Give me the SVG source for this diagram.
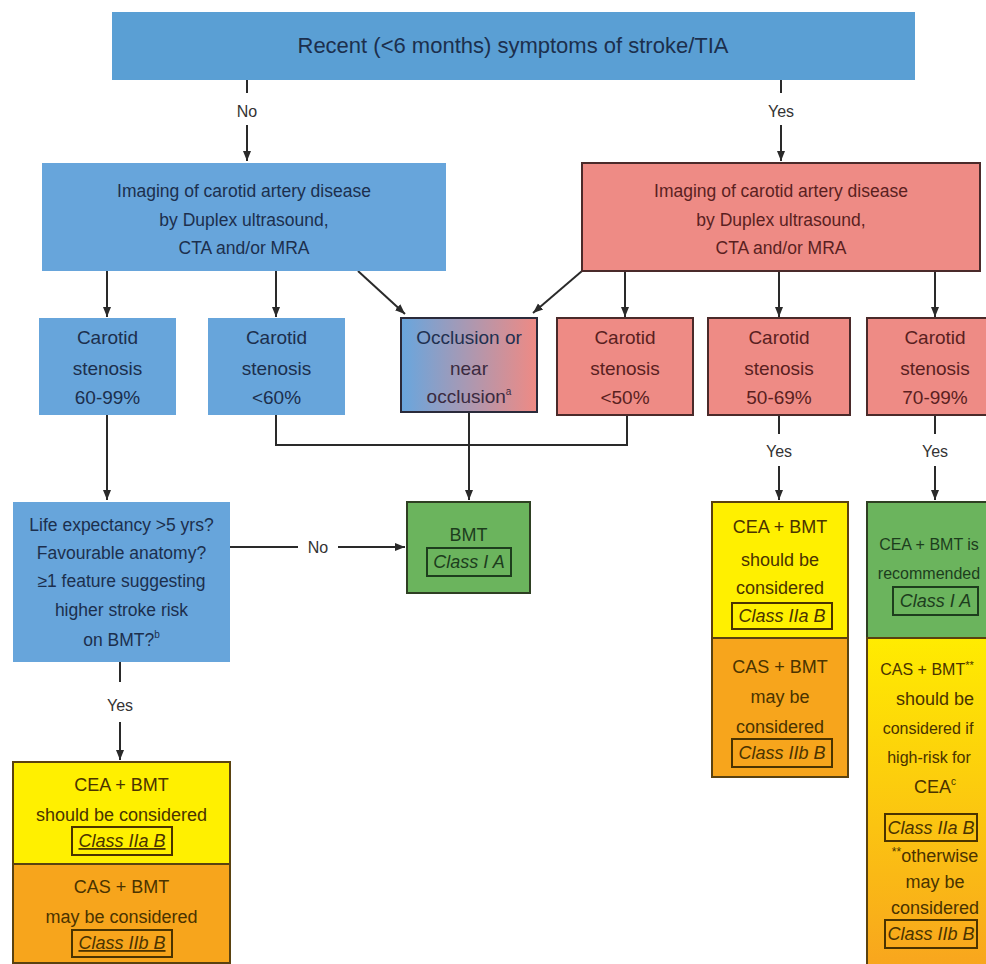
<svg xmlns="http://www.w3.org/2000/svg" width="986" height="964" viewBox="0 0 986 964">
<defs>
<marker id="ah" viewBox="0 0 10 10" refX="10" refY="5" markerWidth="10" markerHeight="10" markerUnits="userSpaceOnUse" orient="auto"><path d="M0,1 L10,5 L0,9 z" fill="#2a2a2a"/></marker>
<linearGradient id="occ" x1="0" x2="1" y1="0" y2="0"><stop offset="0" stop-color="#68a6de"/><stop offset="1" stop-color="#ef8a84"/></linearGradient>
<linearGradient id="yo" x1="0" x2="0" y1="0" y2="1"><stop offset="0" stop-color="#ffec00"/><stop offset="1" stop-color="#f8a51e"/></linearGradient>
</defs>
<style>
text{font-family:"Liberation Sans",Arial,sans-serif;text-anchor:middle}
.blue{fill:#67a5db}
.red{fill:#ee8b85;stroke:#4a2a2a;stroke-width:2}
.green{fill:#6bb45d;stroke:#2e3f22;stroke-width:2}
.yel{fill:#fff000;stroke:#5a4210;stroke-width:2}
.org{fill:#f7a51c;stroke:#5a4210;stroke-width:2}
.tb{fill:#1c2f4d}
.tr{fill:#5a1f1f}
.tg{fill:#1d3d1d}
.ty{fill:#4a3300}
.cls{fill:none;stroke-width:2}
.it{font-style:italic}
.lbl{fill:#333;font-size:16px}
.ln{stroke:#2a2a2a;stroke-width:2;fill:none}
.s17{font-size:17.5px}
.s19{font-size:19px}
.s18{font-size:18px}
.s16{font-size:16px}
</style>

<g id="connectors">
<line class="ln" x1="247" y1="80" x2="247" y2="93"/>
<text class="lbl" x="247" y="117">No</text>
<line class="ln" x1="247" y1="125" x2="247" y2="161" marker-end="url(#ah)"/>
<line class="ln" x1="781" y1="80" x2="781" y2="93"/>
<text class="lbl" x="781" y="117">Yes</text>
<line class="ln" x1="781" y1="125" x2="781" y2="161" marker-end="url(#ah)"/>
<line class="ln" x1="107" y1="271" x2="107" y2="317" marker-end="url(#ah)"/>
<line class="ln" x1="276" y1="271" x2="276" y2="317" marker-end="url(#ah)"/>
<line class="ln" x1="358" y1="271" x2="405" y2="314" marker-end="url(#ah)"/>
<line class="ln" x1="582" y1="271" x2="533" y2="313" marker-end="url(#ah)"/>
<line class="ln" x1="625" y1="271" x2="625" y2="317" marker-end="url(#ah)"/>
<line class="ln" x1="779" y1="271" x2="779" y2="317" marker-end="url(#ah)"/>
<line class="ln" x1="935" y1="271" x2="935" y2="317" marker-end="url(#ah)"/>
<polyline class="ln" points="276,415 276,445 627,445 627,415"/>
<line class="ln" x1="469" y1="412" x2="469" y2="500" marker-end="url(#ah)"/>
<line class="ln" x1="107" y1="415" x2="107" y2="500" marker-end="url(#ah)"/>
<line class="ln" x1="230" y1="547" x2="298" y2="547"/>
<text class="lbl" x="318" y="553">No</text>
<line class="ln" x1="338" y1="547" x2="405" y2="547" marker-end="url(#ah)"/>
<line class="ln" x1="120" y1="662" x2="120" y2="682"/>
<text class="lbl" x="120" y="711">Yes</text>
<line class="ln" x1="120" y1="722" x2="120" y2="760" marker-end="url(#ah)"/>
<line class="ln" x1="779" y1="415" x2="779" y2="434"/>
<text class="lbl" x="779" y="457">Yes</text>
<line class="ln" x1="779" y1="466" x2="779" y2="500" marker-end="url(#ah)"/>
<line class="ln" x1="935" y1="415" x2="935" y2="434"/>
<text class="lbl" x="935" y="457">Yes</text>
<line class="ln" x1="935" y1="466" x2="935" y2="500" marker-end="url(#ah)"/>
</g>

<g id="top">
<rect x="112" y="12" width="803" height="68" fill="#5a9fd4"/>
<text class="tb" x="513" y="53" style="font-size:22px">Recent (&lt;6 months) symptoms of stroke/TIA</text>
</g>

<g id="imaging-no">
<rect class="blue" x="42" y="163" width="404" height="108"/>
<text class="tb s17" x="244" y="197">Imaging of carotid artery disease</text>
<text class="tb s17" x="244" y="226">by Duplex ultrasound,</text>
<text class="tb s17" x="244" y="254">CTA and/or MRA</text>
</g>

<g id="imaging-yes">
<rect class="red" x="582" y="163" width="398" height="108"/>
<text class="tr s17" x="781" y="197">Imaging of carotid artery disease</text>
<text class="tr s17" x="781" y="226">by Duplex ultrasound,</text>
<text class="tr s17" x="781" y="254">CTA and/or MRA</text>
</g>

<g id="sten-60-99">
<rect class="blue" x="39" y="318" width="137" height="97"/>
<text class="tb s19" x="107.5" y="344">Carotid</text>
<text class="tb s19" x="107.5" y="375">stenosis</text>
<text class="tb s19" x="107.5" y="404">60-99%</text>
</g>

<g id="sten-lt60">
<rect class="blue" x="208" y="318" width="137" height="97"/>
<text class="tb s19" x="276.5" y="344">Carotid</text>
<text class="tb s19" x="276.5" y="375">stenosis</text>
<text class="tb s19" x="276.5" y="404">&lt;60%</text>
</g>

<g id="occlusion">
<rect x="401" y="318" width="136" height="94" fill="url(#occ)" stroke="#2a2a3a" stroke-width="2"/>
<text class="s19" x="469" y="344" fill="#1f3050">Occlusion or</text>
<text class="s19" x="469" y="375" fill="#3a2a40">near</text>
<text class="s19" x="469" y="403" fill="#3a2a40">occlusion<tspan font-size="10" dy="-8">a</tspan></text>
</g>

<g id="sten-lt50">
<rect class="red" x="557" y="318" width="136" height="97"/>
<text class="tr s19" x="625" y="344">Carotid</text>
<text class="tr s19" x="625" y="375">stenosis</text>
<text class="tr s19" x="625" y="404">&lt;50%</text>
</g>

<g id="sten-50-69">
<rect class="red" x="708" y="318" width="142" height="97"/>
<text class="tr s19" x="779" y="344">Carotid</text>
<text class="tr s19" x="779" y="375">stenosis</text>
<text class="tr s19" x="779" y="404">50-69%</text>
</g>

<g id="sten-70-99">
<rect class="red" x="867" y="318" width="140" height="97"/>
<text class="tr s19" x="935" y="344">Carotid</text>
<text class="tr s19" x="935" y="375">stenosis</text>
<text class="tr s19" x="935" y="404">70-99%</text>
</g>

<g id="life">
<rect class="blue" x="13" y="502" width="217" height="160"/>
<text class="tb s17" x="121.5" y="531">Life expectancy &gt;5 yrs?</text>
<text class="tb s17" x="121.5" y="559">Favourable anatomy?</text>
<text class="tb s17" x="121.5" y="587">≥1 feature suggesting</text>
<text class="tb s17" x="121.5" y="616">higher stroke risk</text>
<text class="tb s17" x="121.5" y="646">on BMT?<tspan font-size="10" dy="-8">b</tspan></text>
</g>

<g id="bmt">
<rect class="green" x="407" y="502" width="123" height="91"/>
<text class="tg s18" x="468.5" y="541">BMT</text>
<rect class="cls" x="427" y="548" width="84" height="28" stroke="#1d3d1d"/>
<text class="tg s18 it" x="469" y="568">Class I A</text>
</g>

<g id="left-result">
<rect class="yel" x="13" y="762" width="217" height="102"/>
<text class="ty s18" x="121.5" y="791">CEA + BMT</text>
<text class="ty s18" x="121.5" y="821">should be considered</text>
<rect class="cls" x="72" y="827" width="100" height="28" stroke="#4a3300"/>
<text class="ty s18 it" x="122" y="847" text-decoration="underline">Class IIa B</text>
<rect class="org" x="13" y="864" width="217" height="99"/>
<text class="ty s18" x="121.5" y="893">CAS + BMT</text>
<text class="ty s18" x="121.5" y="923">may be considered</text>
<rect class="cls" x="72" y="930" width="100" height="27" stroke="#4a3300"/>
<text class="ty s18 it" x="122" y="949" text-decoration="underline">Class IIb B</text>
</g>

<g id="result-50-69">
<rect class="yel" x="712" y="502" width="136" height="136"/>
<text class="ty s18" x="780" y="533">CEA + BMT</text>
<text class="ty s18" x="780" y="566">should be</text>
<text class="ty s18" x="780" y="594">considered</text>
<rect class="cls" x="732" y="603" width="100" height="26" stroke="#4a3300"/>
<text class="ty s18 it" x="782" y="622">Class IIa B</text>
<rect class="org" x="712" y="638" width="136" height="139"/>
<text class="ty s18" x="780" y="673">CAS + BMT</text>
<text class="ty s18" x="780" y="703">may be</text>
<text class="ty s18" x="780" y="733">considered</text>
<rect class="cls" x="732" y="739" width="100" height="28" stroke="#4a3300"/>
<text class="ty s18 it" x="782" y="759">Class IIb B</text>
</g>

<g id="result-70-99">
<rect class="green" x="867" y="502" width="140" height="136"/>
<text class="tg s16" x="929" y="550">CEA + BMT is</text>
<text class="tg s16" x="929" y="579">recommended</text>
<rect class="cls" x="893" y="587" width="85" height="28" stroke="#1d3d1d"/>
<text class="tg s18 it" x="935.5" y="607">Class I A</text>
<rect x="867" y="638" width="140" height="330" fill="url(#yo)" stroke="#5a4210" stroke-width="2"/>
<text class="ty s16" x="927" y="675">CAS + BMT<tspan font-size="11" dy="-6">**</tspan></text>
<text class="ty s18" x="935" y="705">should be</text>
<text class="ty s16" x="928" y="734">considered if</text>
<text class="ty s16" x="929" y="763">high-risk for</text>
<text class="ty s18" x="935" y="793">CEA<tspan font-size="10" dy="-8">c</tspan></text>
<rect class="cls" x="885" y="814" width="92" height="27" stroke="#4a3300"/>
<text class="ty s18 it" x="931" y="834">Class IIa B</text>
<text class="ty s18" x="935" y="862"><tspan font-size="12" dy="-6">**</tspan><tspan dy="6">otherwise</tspan></text>
<text class="ty s18" x="935" y="888">may be</text>
<text class="ty s18" x="935" y="914">considered</text>
<rect class="cls" x="885" y="920" width="92" height="28" stroke="#4a3300"/>
<text class="ty s18 it" x="931" y="940">Class IIb B</text>
</g>
</svg>
